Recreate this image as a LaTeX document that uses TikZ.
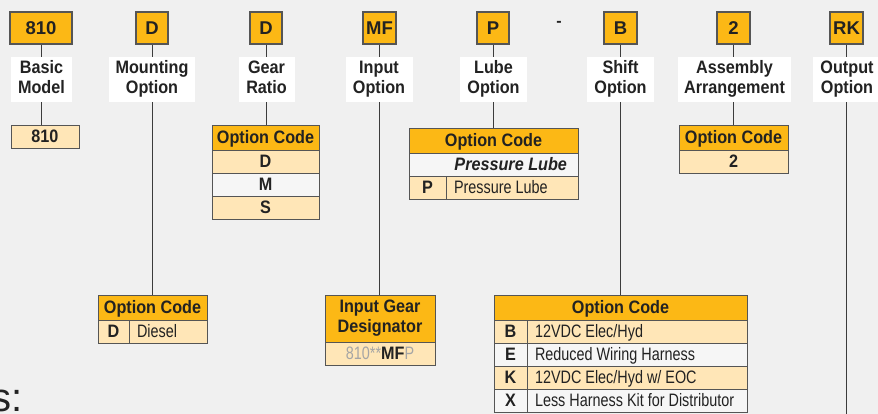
\documentclass[tikz,border=0pt]{standalone}
\usepackage{fontspec}
\setmainfont{Liberation Sans}[UprightFeatures={FakeStretch=0.8}, ItalicFeatures={FakeStretch=0.8},
  BoldFeatures={FakeStretch=0.9}, BoldItalicFeatures={FakeStretch=0.9}]
\newfontfamily\codefont{Liberation Sans}
\definecolor{codeorange}{RGB}{252,184,21}
\definecolor{rowcream}{RGB}{255,230,183}
\definecolor{rowwhite}{RGB}{246,246,246}
\definecolor{pagegray}{RGB}{240,240,240}
\definecolor{framegray}{RGB}{85,85,85}
\definecolor{inktext}{RGB}{34,34,34}
\definecolor{dimtext}{RGB}{165,165,165}
\newcommand{\pxfont}[1]{\fontsize{#1}{#1}\selectfont}
\newcommand{\lefttxt}[2]{\makebox[#1][l]{#2}}
\tikzset{
  topcode/.style={draw=framegray, line width=1.3pt, fill=codeorange, minimum height=32pt,
    inner sep=0pt, text height=13pt, text depth=0pt, text=inktext, font=\codefont\bfseries\pxfont{18.5}},
  caption/.style={fill=white, minimum height=45pt, inner sep=0pt, align=center, text=inktext,
    font=\bfseries\fontsize{18}{20}\selectfont},
  cell/.style={draw=framegray, line width=0.8pt, inner sep=0pt, outer sep=0pt, anchor=north west,
    minimum height=23pt, text height=12.5pt, text depth=0pt, text=inktext, font=\pxfont{18}},
  hdrcell/.style={cell, fill=codeorange, minimum height=25pt, font=\bfseries\pxfont{18}},
  creamcell/.style={cell, fill=rowcream},
  whitecell/.style={cell, fill=rowwhite},
  keycell/.style={font=\bfseries\pxfont{18}},
  lefttext/.style={inner xsep=8pt},
  link/.style={draw=framegray!70!black, line width=0.8pt},
}
\begin{document}
\begin{tikzpicture}[x=1pt, y=-1pt]
  \useasboundingbox (0,0) rectangle (878,414);
  \fill[pagegray] (0,0) rectangle (878,414);
  % Top row of code boxes
  \node[topcode, minimum width=62pt] (c810) at (41,28) {810};
  \node[topcode, minimum width=32pt] (cmount) at (152,28) {D};
  \node[topcode, minimum width=32pt] (cgear) at (266,28) {D};
  \node[topcode, minimum width=33pt] (cinput) at (379.5,28) {MF};
  \node[topcode, minimum width=32pt] (clube) at (493,28) {P};
  \node[font=\codefont\bfseries\pxfont{16}, text=inktext] (dash) at (559,24) {-};
  \node[topcode, minimum width=33pt] (cshift) at (620.5,28) {B};
  \node[topcode, minimum width=33pt] (cassy) at (733.5,28) {2};
  \node[topcode, minimum width=33pt] (cout) at (846.5,28) {RK};
  % Captions
  \node[caption, minimum width=61pt] (lbasic) at (41.5,79.5) {\strut Basic\\\strut Model};
  \node[caption, minimum width=86pt] (lmount) at (152,79.5) {\strut Mounting\\\strut Option};
  \node[caption, minimum width=56pt] (lgear) at (266.5,79.5) {\strut Gear\\\strut Ratio};
  \node[caption, minimum width=67pt] (linput) at (379,79.5) {\strut Input\\\strut Option};
  \node[caption, minimum width=67pt] (llube) at (493.5,79.5) {\strut Lube\\\strut Option};
  \node[caption, minimum width=67pt] (lshift) at (620.5,79.5) {\strut Shift\\\strut Option};
  \node[caption, minimum width=113pt] (lassy) at (734.5,79.5) {\strut Assembly\\\strut Arrangement};
  \node[caption, minimum width=68pt] (lout) at (847,79.5) {\strut Output\\\strut Option};
  % Basic model
  \node[creamcell, keycell, minimum width=68pt] (v810) at (11,125) {810};
  % Gear ratio table
  \node[hdrcell, minimum width=107pt] (hgear) at (212,125) {Option Code};
  \node[creamcell, keycell, minimum width=107pt] (gearD) at (212,150) {D};
  \node[whitecell, keycell, minimum width=107pt] (gearM) at (212,173) {M};
  \node[creamcell, keycell, minimum width=107pt] (gearS) at (212,196) {S};
  % Lube table
  \node[hdrcell, minimum width=169pt] (hlube) at (409,128) {Option Code};
  \node[whitecell, inner xsep=11pt, font=\bfseries\itshape\pxfont{18}] (lubeall) at (409,153)
    {\makebox[147pt][r]{Pressure Lube}};
  \node[creamcell, keycell, minimum width=37pt] (lubeP) at (409,176) {P};
  \node[creamcell, lefttext] (lubePtxt) at (446,176) {\lefttxt{116pt}{Pressure Lube}};
  % Assembly table
  \node[hdrcell, minimum width=109pt] (hassy) at (679,125) {Option Code};
  \node[creamcell, keycell, minimum width=109pt] (assy2) at (679,150) {2};
  % Mounting table
  \node[hdrcell, minimum width=109pt] (hmount) at (98,295) {Option Code};
  \node[creamcell, keycell, minimum width=31pt] (mountD) at (98,320) {D};
  \node[creamcell, lefttext] (mountDtxt) at (129,320) {\lefttxt{62pt}{Diesel}};
  % Input gear table
  \node[cell, fill=codeorange, minimum width=110pt, minimum height=47pt, align=center,
    text height=, text depth=, font=\bfseries\fontsize{18}{20}\selectfont] (hinput) at (325,295)
    {\strut Input Gear\\\strut Designator};
  \node[creamcell, minimum width=110pt] (inputrow) at (325,342)
    {\textcolor{dimtext}{810**}\textbf{MF}\textcolor{dimtext}{P}};
  % Shift table
  \node[hdrcell, minimum width=253pt] (hshift) at (494,295) {Option Code};
  \node[creamcell, keycell, minimum width=33pt] (shiftB) at (494,320) {B};
  \node[creamcell, lefttext] (shiftBtxt) at (527,320) {\lefttxt{204pt}{12VDC Elec/Hyd}};
  \node[whitecell, keycell, minimum width=33pt] (shiftE) at (494,343) {E};
  \node[whitecell, lefttext] (shiftEtxt) at (527,343) {\lefttxt{204pt}{Reduced Wiring Harness}};
  \node[creamcell, keycell, minimum width=33pt] (shiftK) at (494,366) {K};
  \node[creamcell, lefttext] (shiftKtxt) at (527,366) {\lefttxt{204pt}{12VDC Elec/Hyd w/ EOC}};
  \node[whitecell, keycell, minimum width=33pt] (shiftX) at (494,389) {X};
  \node[whitecell, lefttext] (shiftXtxt) at (527,389) {\lefttxt{204pt}{Less Harness Kit for Distributor}};
  % Partial heading at the bottom left
  \node[anchor=base west, inner sep=0pt, text=inktext, font=\codefont\pxfont{40}] (tail) at (-9,411) {s:};
  % Connectors
  \coordinate (outend) at (847,414);
  \draw[link] (c810.south) -- (c810.south |- lbasic.north);
  \draw[link] (lbasic.south) -- (lbasic.south |- v810.north);
  \draw[link] (cmount.south) -- (cmount.south |- lmount.north);
  \draw[link] (lmount.south) -- (lmount.south |- hmount.north);
  \draw[link] (cgear.south) -- (cgear.south |- lgear.north);
  \draw[link] (cgear.south |- lgear.south) -- (cgear.south |- hgear.north);
  \draw[link] (cinput.south) -- (cinput.south |- linput.north);
  \draw[link] (cinput.south |- linput.south) -- (cinput.south |- hinput.north);
  \draw[link] (clube.south) -- (clube.south |- llube.north);
  \draw[link] (clube.south |- llube.south) -- (clube.south |- hlube.north);
  \draw[link] (cshift.south) -- (cshift.south |- lshift.north);
  \draw[link] (cshift.south |- lshift.south) -- (cshift.south |- hshift.north);
  \draw[link] (cassy.south) -- (cassy.south |- lassy.north);
  \draw[link] (cassy.south |- lassy.south) -- (cassy.south |- hassy.north);
  \draw[link] (cout.south) -- (cout.south |- lout.north);
  \draw[link] (cout.south |- lout.south) -- (cout.south |- outend);
\end{tikzpicture}
\end{document}
